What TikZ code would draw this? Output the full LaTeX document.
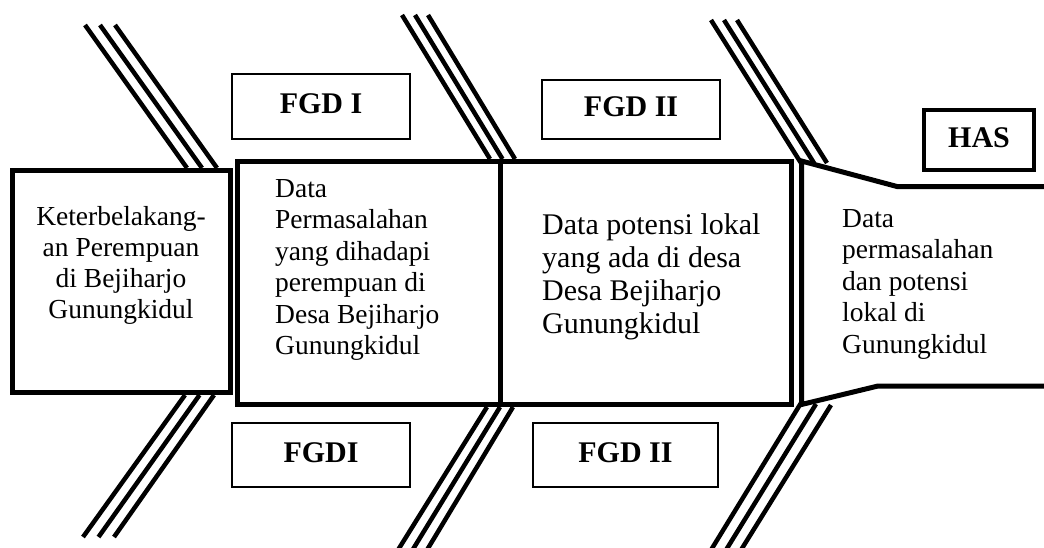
\documentclass[tikz,border=0pt]{standalone}
\usepackage{fontspec}
\setmainfont{Liberation Serif}
\tikzset{
 bigbox/.style={draw, line width=5pt, inner sep=0pt},
 txt/.style={font=\fontsize{27.5pt}{31.5pt}\selectfont, inner sep=0pt},
 lab/.style={draw, line width=1.4pt, font=\bfseries\fontsize{30pt}{32pt}\selectfont, text height=20pt, text depth=6pt, inner sep=0pt},
 boneline/.style={line width=4.5pt},
}
\begin{document}
\begin{tikzpicture}[x=1pt,y=-1pt]
\useasboundingbox (0,0) rectangle (1044,547);
\fill[white] (0,0) rectangle (1044,547);

% bones
\foreach \i in {0,1,2} {
  \draw[boneline] ({85+15*\i},25) -- ({187+15*\i},168);
  \draw[boneline] ({185+14.5*\i},395) -- ({83+15.5*\i},537);
  \draw[boneline] ({402+13*\i},15) -- ({490+12.5*\i},159);
  \draw[boneline] ({487+13*\i},407) -- ({398+14.5*\i},550);
  \draw[boneline] ({711+13*\i},20) -- ({801+13*\i},163);
  \draw[boneline] ({801+15*\i},{403+\i}) -- ({711+15*\i},550);
}

% main boxes
\node[bigbox, minimum width=217.5pt, minimum height=222pt] (b1) at (121.25,281.5) {};
\node[bigbox, minimum width=263.5pt, minimum height=243.5pt] (b2) at (368.75,282.75) {};
\node[bigbox, minimum width=291pt, minimum height=243.5pt] (b3) at (646,282.75) {};

% head (open box)
\coordinate (h1) at (801.5,161);
\coordinate (h2) at (897,186.5);
\coordinate (h3) at (1046,186.5);
\coordinate (h4) at (801.5,404.5);
\coordinate (h5) at (878,386);
\coordinate (h6) at (1046,386);
\draw[line width=5pt] (h3) -- (h2) -- (h1) -- (h4) -- (h5) -- (h6);

% texts (base anchor = baseline of the last line)
\node[txt, font=\fontsize{27.5pt}{31pt}\selectfont, align=center, anchor=base] (t1) at (121,318) {Keterbelakang-\\an Perempuan\\di Bejiharjo\\Gunungkidul};
\node[txt, align=left, anchor=base west] (t2) at (275,354.5) {Data\\Permasalahan\\yang dihadapi\\perempuan di\\Desa Bejiharjo\\Gunungkidul};
\node[txt, font=\fontsize{30pt}{32.7pt}\selectfont, align=left, anchor=base west] (t3) at (542,333) {Data potensi lokal\\yang ada di desa\\Desa Bejiharjo\\Gunungkidul};
\node[txt, align=left, anchor=base west] (t4) at (842,353) {Data\\permasalahan\\dan potensi\\lokal di\\Gunungkidul};

% labels
\node[lab, minimum width=178pt, minimum height=65pt] (f1) at (321,106.5) {FGD I};
\node[lab, minimum width=178pt, minimum height=59pt] (f2) at (631,109.5) {FGD II};
\node[lab, minimum width=178pt, minimum height=64pt] (f3) at (321,455) {FGDI};
\node[lab, minimum width=185pt, minimum height=64pt] (f4) at (625.5,455) {FGD II};
\node[lab, line width=4pt, minimum width=110pt, minimum height=60pt] (has) at (979,140) {HAS};
\end{tikzpicture}
\end{document}
